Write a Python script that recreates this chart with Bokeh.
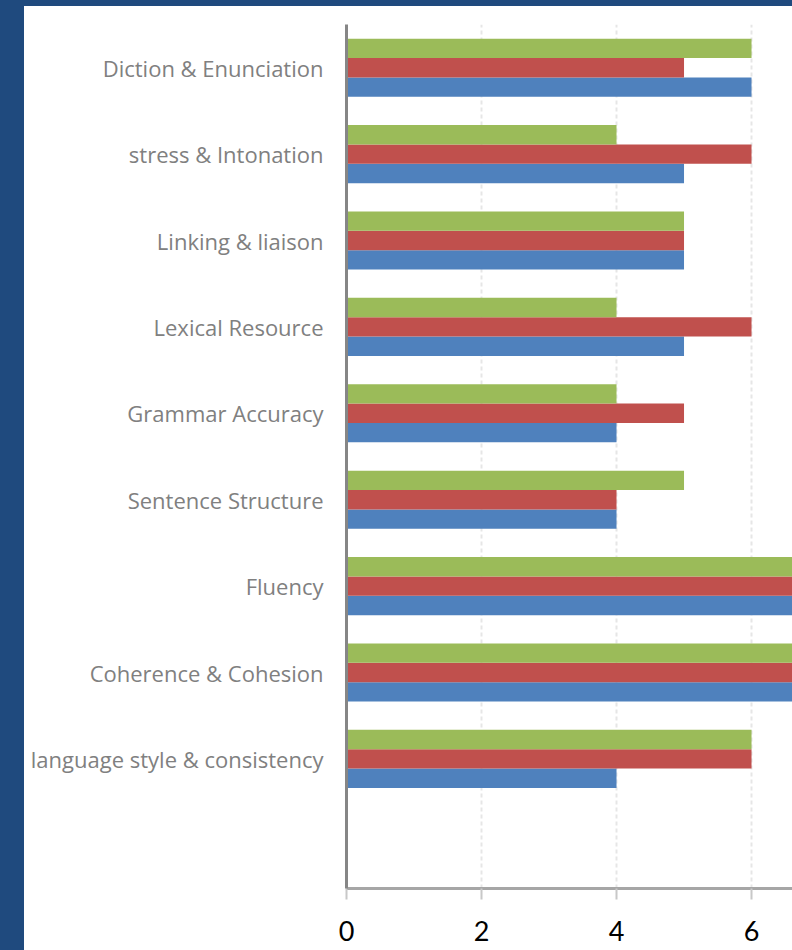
from bokeh.plotting import figure
from bokeh.models import ColumnDataSource, FactorRange, Range1d, FixedTicker, Div
from bokeh.layouts import row, column
from bokeh.transform import dodge
from bokeh.embed import file_html
from bokeh.resources import INLINE

# categories listed bottom -> top (as drawn by the chart)
categories = ["language style & consistency", "Coherence & Cohesion", "Fluency",
              "Sentence Structure", "Grammar Accuracy", "Lexical Resource",
              "Linking & liaison", "stress & Intonation", "Diction & Enunciation"]
series1 = [4, 7, 7, 4, 4, 5, 5, 5, 6]   # blue
series2 = [6, 7, 7, 4, 5, 6, 5, 6, 5]   # red
series3 = [6, 7, 7, 5, 4, 4, 5, 4, 6]   # green
x_ticks = [0, 2, 4, 6, 8]

BLUE, RED, GREEN = "#4F81BD", "#C0504D", "#9BBB59"
FRAME_BLUE = "#1F4A7E"

src = ColumnDataSource(dict(cat=categories, s1=series1, s2=series2, s3=series3))

factors = [" "] + categories
p = figure(width=768, height=944, output_backend="svg", toolbar_location=None,
           y_range=FactorRange(factors=factors), x_range=Range1d(0, 6.607),
           min_border_left=322, min_border_right=0, min_border_top=18,
           min_border_bottom=62)
p.outline_line_color = None
p.background_fill_color = "white"
p.border_fill_color = "white"

bh = 0.224
p.hbar(y=dodge("cat", -bh, range=p.y_range), right="s1", left=0, height=bh,
       source=src, fill_color=BLUE, line_color=None)
p.hbar(y=dodge("cat", 0, range=p.y_range), right="s2", left=0, height=bh,
       source=src, fill_color=RED, line_color=None)
p.hbar(y=dodge("cat", bh, range=p.y_range), right="s3", left=0, height=bh,
       source=src, fill_color=GREEN, line_color=None)

# x axis
p.xaxis.ticker = FixedTicker(ticks=x_ticks)
p.xaxis.axis_line_color = "#A6A6A6"
p.xaxis.axis_line_width = 3
p.xaxis.major_tick_out = 11
p.xaxis.major_tick_in = 0
p.xaxis.major_tick_line_color = "#C8C8C8"
p.xaxis.major_tick_line_width = 2
p.xaxis.minor_tick_line_color = None
p.xaxis.major_label_text_font = "Lato"
p.xaxis.major_label_text_font_size = "27px"
p.xaxis.major_label_text_color = "#000000"
p.xaxis.major_label_standoff = 21

# y axis
p.yaxis.axis_line_color = "#868686"
p.yaxis.axis_line_width = 3
p.yaxis.major_tick_out = 0
p.yaxis.major_tick_in = 0
p.yaxis.major_tick_line_color = None
p.yaxis.minor_tick_line_color = None
p.yaxis.major_label_text_font = "Open Sans"
p.yaxis.major_label_text_font_size = "22px"
p.yaxis.major_label_text_color = "#808080"
p.yaxis.major_label_standoff = 23

# grid
p.ygrid.grid_line_color = None
p.xgrid.grid_line_color = "#E6E6E6"
p.xgrid.grid_line_width = 2
p.xgrid.grid_line_dash = "4 3"

top_strip = Div(text="", width=792, height=6, margin=0,
                styles={"background-color": FRAME_BLUE})
left_strip = Div(text="", width=24, height=944, margin=0,
                 styles={"background-color": FRAME_BLUE})
layout = column(top_strip, row(left_strip, p, spacing=0), spacing=0)

open("out.html", "w").write(file_html(layout, INLINE))
